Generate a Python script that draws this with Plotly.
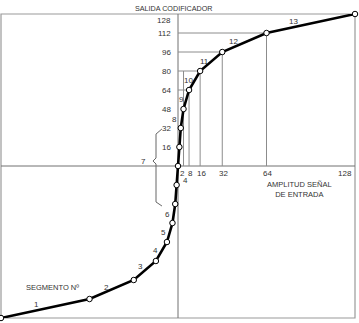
import plotly.graph_objects as go

# ---- data ----
input_amplitude = [-128, -64, -32, -16, -8, -4, -2, -1, 0, 1, 2, 4, 8, 16, 32, 64, 128]
coder_output = [-128, -112, -96, -80, -64, -48, -32, -16, 0, 16, 32, 48, 64, 80, 96, 112, 128]
y_tick_values = [16, 32, 48, 64, 80, 96, 112, 128]
x_tick_values = [2, 4, 8, 16, 32, 64, 128]
segment_numbers = ["1", "2", "3", "4", "5", "6", "7", "8", "9", "10", "11", "12", "13"]
# breakpoints that get projection lines (input, output)
proj_in = [8, 16, 32, 64]
proj_out = [64, 80, 96, 112]

# ---- layout helpers (label placement) ----
seg_label_pos = {
    "1": (-102, -117), "2": (-52, -102), "3": (-27, -85), "4": (-16, -71),
    "5": (-10.5, -56), "6": (-7.5, -41), "7": (-22, 4.2), "8": (-2.2, 39),
    "9": (2.3, 56), "10": (7.4, 71.6), "11": (19.3, 88.4), "12": (40, 104.7),
    "13": (83.4, 122.1),
}

FONT = "Liberation Sans, Arial, sans-serif"
TXT = "#333333"
GRID = "#8c8c8c"

fig = go.Figure()

fig.add_trace(go.Scatter(
    x=input_amplitude, y=coder_output, mode="lines+markers",
    line=dict(color="black", width=2.6),
    marker=dict(size=5.5, color="white", line=dict(color="black", width=1)),
    cliponaxis=False, hoverinfo="skip", showlegend=False,
))

shapes = []
# frame
shapes.append(dict(type="rect", xref="paper", yref="paper", x0=0, y0=0, x1=1, y1=1,
                   line=dict(color="#9a9a9a", width=1.2), layer="below"))
# axes through origin
shapes.append(dict(type="line", x0=-128, x1=128, y0=0, y1=0,
                   line=dict(color="#707070", width=1), layer="below"))
shapes.append(dict(type="line", x0=0, x1=0, y0=-128, y1=128,
                   line=dict(color="#707070", width=1), layer="below"))
# projection lines
for xi, yo in zip(proj_in, proj_out):
    shapes.append(dict(type="line", x0=xi, x1=xi, y0=0, y1=yo,
                       line=dict(color=GRID, width=1), layer="below"))
    shapes.append(dict(type="line", x0=0, x1=xi, y0=yo, y1=yo,
                       line=dict(color=GRID, width=1), layer="below"))
shapes.append(dict(type="line", x0=4, x1=4, y0=0, y1=80,
                   line=dict(color=GRID, width=1), layer="below"))
# brace for segment 7
shapes.append(dict(type="path",
                   path="M -11.6 31.2 L -15.9 26.9 L -15.9 6.7 L -18.1 4.2 L -15.9 1.7 L -15.9 -30.3 L -11.6 -33.7",
                   line=dict(color="#666666", width=1)))

ann = []
for v in y_tick_values:
    ann.append(dict(x=0, y=v, text=str(v), showarrow=False, xanchor="right",
                    yanchor="top" if v == max(y_tick_values) else "middle",
                    xshift=-5,
                    font=dict(family=FONT, size=8, color=TXT)))
for v in x_tick_values:
    if v == 4:
        ann.append(dict(x=v, y=0, text=str(v), showarrow=False, xanchor="center",
                        yanchor="top", xshift=2, yshift=-8,
                        font=dict(family=FONT, size=8, color=TXT)))
    elif v == max(x_tick_values):
        ann.append(dict(x=v, y=0, text=str(v), showarrow=False, xanchor="right",
                        yanchor="top", xshift=-1, yshift=-1,
                        font=dict(family=FONT, size=8, color=TXT)))
    else:
        ann.append(dict(x=v, y=0, text=str(v), showarrow=False, xanchor="center",
                        yanchor="top", xshift=1.5 if v == 2 else 1, yshift=-1,
                        font=dict(family=FONT, size=8, color=TXT)))
for s in segment_numbers:
    px, py = seg_label_pos[s]
    ann.append(dict(x=px, y=py, text=s, showarrow=False,
                    xanchor="right" if s == "7" else "center", yanchor="middle",
                    font=dict(family=FONT, size=8, color=TXT)))
ann.append(dict(x=-90.4, y=-102, text="SEGMENTO Nº", showarrow=False,
                font=dict(family=FONT, size=7.5, color=TXT)))
ann.append(dict(x=88, y=-19.5, text="AMPLITUD SEÑAL<br>DE ENTRADA", showarrow=False,
                font=dict(family=FONT, size=7.5, color=TXT)))
ann.append(dict(x=-3, xref="x", y=1, yref="paper", yshift=6, yanchor="middle",
                text="SALIDA CODIFICADOR", showarrow=False,
                font=dict(family=FONT, size=7.2, color=TXT)))

fig.update_layout(
    width=359, height=323,
    margin=dict(l=1, r=4, t=14, b=5),
    paper_bgcolor="white", plot_bgcolor="white",
    xaxis=dict(range=[-128, 128], visible=False, fixedrange=True),
    yaxis=dict(range=[-128, 128], visible=False, fixedrange=True),
    shapes=shapes, annotations=ann, showlegend=False,
)

fig.write_html("out.html", config={"displayModeBar": False})
